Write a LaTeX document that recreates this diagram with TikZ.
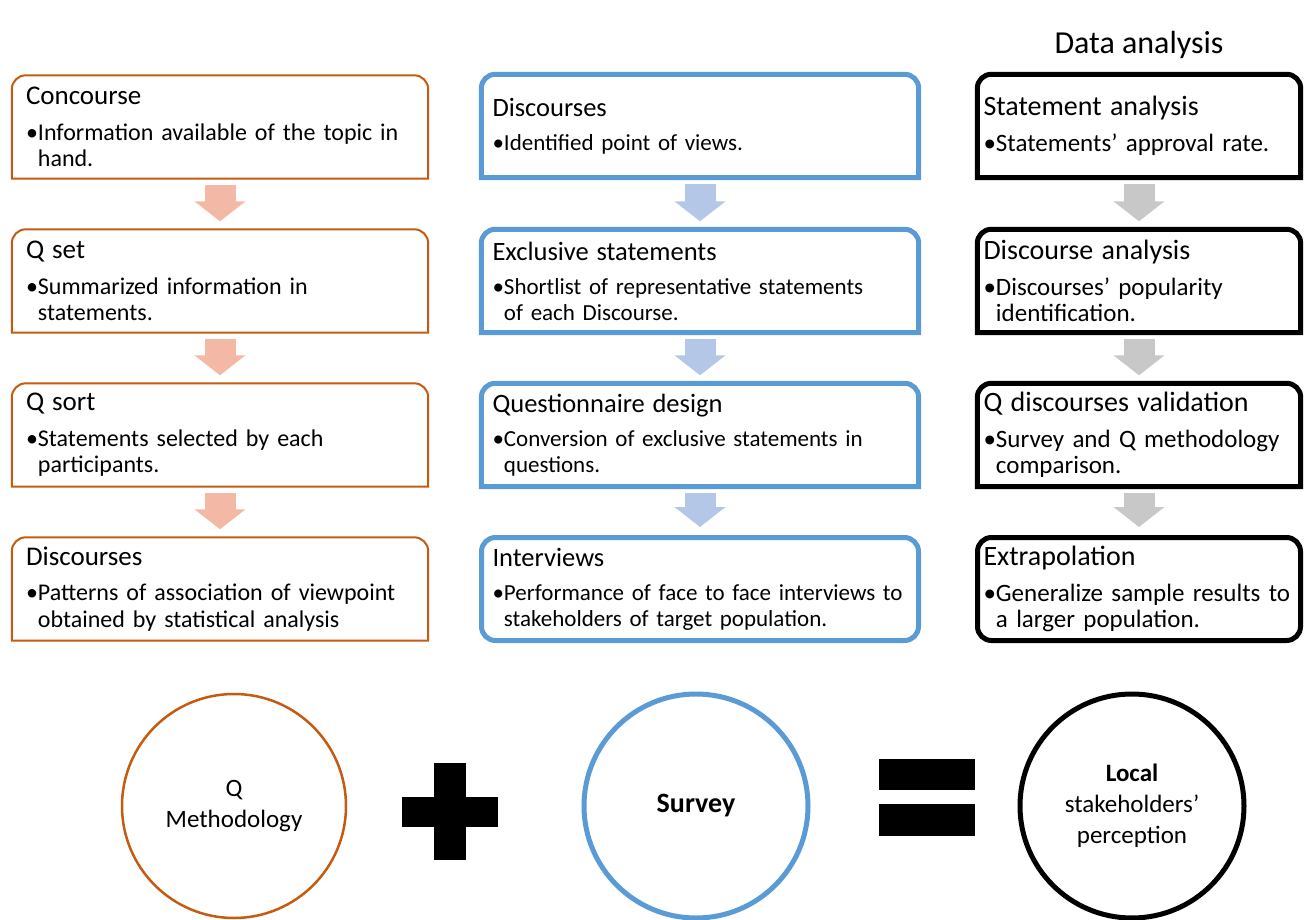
\documentclass[tikz,border=0pt]{standalone}
\usepackage{fontspec}
\setmainfont{Carlito}
\usetikzlibrary{
  arrows.meta
}
\definecolor{qorange}{HTML}{C55A11}
\definecolor{sblue}{HTML}{5B9BD5}
\definecolor{qarrow}{HTML}{F4B9A6}
\definecolor{sarrow}{HTML}{B4C7E7}
\definecolor{darrow}{HTML}{C8C8C8}
\setlength{\parindent}{0pt}
\newcommand{\hd}[2][27]{{\fontsize{#1}{#1}\selectfont #2\par}\vspace{9pt}}
\newcommand{\bul}[1]{\setbox0\hbox{\textbullet}\hangindent=\wd0 \hangafter=1 \noindent\box0 #1\par}

\begin{document}
\begin{tikzpicture}[x=1pt, y=-1pt,
    qbox/.style = {text width=388pt, inner xsep=14pt, minimum height=103pt,
      align=left, font=\fontsize{24}{26.5}\selectfont},
    sbox/.style = {text width=415pt, inner xsep=11pt, minimum height=103pt,
      align=left, font=\fontsize{23}{25.5}\selectfont},
    dbox/.style = {text width=311pt, inner xsep=6pt, minimum height=103pt,
      align=left, font=\fontsize{25}{26.5}\selectfont},
    qline/.style = {draw=qorange, line width=2pt},
    sline/.style = {draw=sblue, line width=5pt},
    dline/.style = {draw=black, line width=5pt},
    ring/.style = {circle, minimum size=224pt, inner sep=0pt, align=center,
      font=\fontsize{25}{31}\selectfont}]
    \useasboundingbox (0,0) rectangle (1307,920);

    \node[font=\fontsize{32}{32}\selectfont, anchor=base] (head) at (1139,54) {Data analysis};

    % Q methodology column
    \node[qbox] (conc) at (220,127) {\hd{Concourse}\bul{Information available of the topic in\newline hand.}};
    \node[qbox] (qset) at (220,281) {\hd{Q set}\bul{Summarized information in\newline statements.}};
    \node[qbox] (qsort) at (220,435) {\hd{Q sort}\bul{Statements selected by each\newline participants.}};
    \node[qbox] (disc) at (220,589) {\hd{Discourses}\bul{Patterns of association of viewpoint\newline obtained by statistical analysis}};

    % survey column
    \node[sbox] (sdisc) at (700,126) {\hd[26.5]{Discourses}\bul{Identified point of views.}};
    \node[sbox] (excl) at (700,281) {\hd[26.5]{Exclusive statements}\bul{Shortlist of representative statements\newline of each Discourse.}};
    \node[sbox] (qdes) at (700,435) {\hd[26.5]{Questionnaire design}\bul{Conversion of exclusive statements in\newline questions.}};
    \node[sbox, sline, rounded corners=14pt] (intv) at (700,589) {\hd[26.5]{Interviews}\bul{Performance of face to face interviews to\newline stakeholders of target population.}};

    % data analysis column
    \node[dbox] (stat) at (1139,126) {\hd[28]{Statement analysis}\bul{Statements' approval rate.}};
    \node[dbox] (dana) at (1139,281) {\hd[28]{Discourse analysis}\bul{Discourses' popularity\newline identification.}};
    \node[dbox] (valid) at (1139,435) {\hd[28]{Q discourses validation}\bul{Survey and Q methodology\newline comparison.}};
    \node[dbox, dline, rounded corners=14pt] (extra) at (1139,589) {\hd[28]{Extrapolation}\bul{Generalize sample results to\newline a larger population.}};

    % frames with rounded top only
    \foreach \n/\s in {conc/qline, qset/qline, qsort/qline, disc/qline,
        sdisc/sline, excl/sline, qdes/sline, stat/dline, dana/dline, valid/dline}
      \draw[\s] (\n.south west) [rounded corners=14pt] -- (\n.north west)
        -- (\n.north east) [sharp corners] -- (\n.south east) -- cycle;

    % block arrows
    \foreach \a/\b/\c in {conc/qset/qarrow, qset/qsort/qarrow, qsort/disc/qarrow,
        sdisc/excl/sarrow, excl/qdes/sarrow, qdes/intv/sarrow,
        stat/dana/darrow, dana/valid/darrow, valid/extra/darrow}
      \draw[\c, line width=31pt, -{Triangle[width=50pt, length=20pt]}]
        ([yshift=-6pt]\a.south) -- ([yshift=8pt]\b.north);

    % Q methodology + survey = perception
    \node[ring, draw=qorange, line width=2.5pt] (qm) at (234,806) {Q\\Methodology};
    \node[ring, draw=sblue, line width=5pt, font=\fontsize{28}{31}\selectfont\bfseries] (sv) at (696,806) {Survey};
    \node[ring, draw=black, line width=5pt] (lsp) at (1132,806) {\textbf{Local}\\stakeholders'\\perception};
    \fill (402,797) rectangle (498,827);
    \fill (434,763) rectangle (466,860);
    \fill (879,759) rectangle (975,790);
    \fill (879,804) rectangle (975,836);
\end{tikzpicture}
\end{document}
